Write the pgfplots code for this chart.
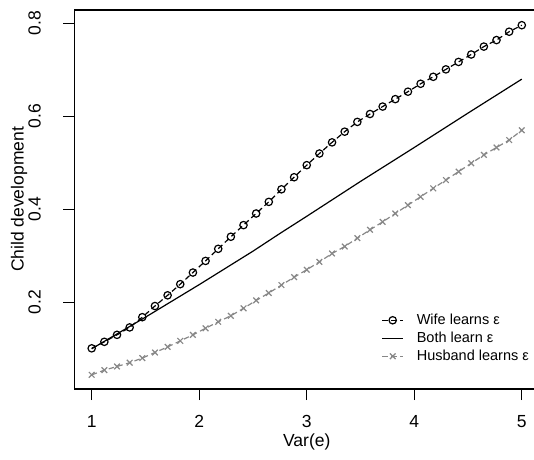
\documentclass[border=0pt]{standalone}
\usepackage{pgfplots}
\pgfplotsset{compat=1.18}
\usepackage{pgfplotstable}
\usepackage{fontspec}
\setmainfont{Liberation Sans}
\definecolor{hgray}{gray}{0.53}
\pgfplotstableread{
x wife husband
1.0000 0.101 0.044
1.1176 0.115 0.054
1.2353 0.130 0.062
1.3529 0.146 0.070
1.4706 0.168 0.080
1.5882 0.192 0.092
1.7059 0.215 0.104
1.8235 0.239 0.117
1.9412 0.264 0.130
2.0588 0.289 0.144
2.1765 0.315 0.158
2.2941 0.341 0.171
2.4118 0.366 0.187
2.5294 0.391 0.204
2.6471 0.416 0.220
2.7647 0.443 0.237
2.8824 0.469 0.254
3.0000 0.495 0.270
3.1176 0.520 0.287
3.2353 0.544 0.305
3.3529 0.567 0.320
3.4706 0.588 0.338
3.5882 0.605 0.356
3.7059 0.621 0.373
3.8235 0.637 0.391
3.9412 0.653 0.409
4.0588 0.670 0.427
4.1765 0.685 0.445
4.2941 0.701 0.463
4.4118 0.717 0.481
4.5294 0.733 0.499
4.6471 0.750 0.517
4.7647 0.764 0.533
4.8824 0.782 0.549
5.0000 0.796 0.570
}\datatable
\pgfplotstableread{
x both
1.00 0.100
1.25 0.134
1.50 0.168
1.75 0.203
2.00 0.238
2.25 0.274
2.50 0.310
2.75 0.348
3.00 0.385
3.50 0.460
4.00 0.533
4.50 0.607
5.00 0.680
}\bothtable
\begin{document}
\begin{tikzpicture}
\begin{axis}[name=ax, scale only axis, width=464.5pt, height=379pt,
  xmin=0.84, xmax=5.16, ymin=0.0135, ymax=0.8287,
  xtick={1,2,3,4,5}, ytick={0.2,0.4,0.6,0.8},
  tick align=outside, tick pos=left,
  major tick length=11pt,
  tick style={black, line width=1.2pt},
  axis line style={line width=1.2pt},
  /pgf/number format/assume math mode=true,
  /pgf/number format/fixed,
  ticklabel style={font=\fontsize{17.5}{20}\selectfont},
  yticklabel style={rotate=90, anchor=south, inner ysep=9.5pt},
  xticklabel shift=12pt, yticklabel shift=13pt,
  xlabel={Var(e)}, ylabel={Child development},
  label style={font=\fontsize{17.5}{20}\selectfont},
  xlabel style={at={(axis description cs:0.5,-0.139)}, anchor=center},
  ylabel style={at={(axis description cs:-0.1195,0.5)}, anchor=center},
  legend style={at={(axis description cs:0.6607,0.203)}, anchor=north west,
    draw=none, fill=none, inner sep=0pt, column sep=11pt, row sep=2pt,
    font=\fontsize{14.5}{16}\selectfont},
  legend cell align=left,
  legend image code/.code={\draw[mark repeat=2,mark phase=2] plot coordinates {(0pt,0pt) (10.5pt,0pt) (21pt,0pt)};},
]
\addplot[black, line width=1.2pt, dash pattern=on 5.5pt off 3.5pt, mark=o, mark size=3.7pt, mark options={solid}] table[x=x, y=wife] {\datatable};
\addlegendentry{Wife learns ε}
\addplot[black, line width=1.2pt] table[x=x, y=both] {\bothtable};
\addlegendentry{Both learn ε}
\addplot[hgray, line width=1.2pt, dash pattern=on 5.5pt off 3.5pt, mark=x, mark size=4pt, mark options={solid}] table[x=x, y=husband] {\datatable};
\addlegendentry{Husband learns ε}
\end{axis}
\pgfresetboundingbox
\useasboundingbox ([shift={(-74.5pt,-70pt)}]ax.south west) rectangle ([shift={(-5pt,10pt)}]ax.north east);
\end{tikzpicture}
\end{document}
